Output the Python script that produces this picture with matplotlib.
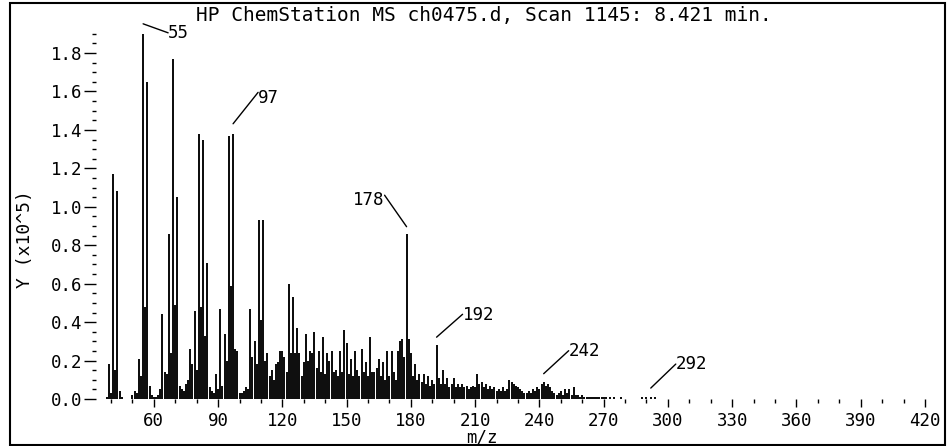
import matplotlib.pyplot as plt
import numpy as np
from matplotlib.patches import Rectangle
from matplotlib.ticker import MultipleLocator
from matplotlib.transforms import offset_copy

plt.rcParams['font.family'] = ['DejaVu Sans Mono']

# Scan 1145 abundances (units of 1e5 counts), one value per integer m/z
mz = np.arange(38, 296)
abundance = [
    # 38-59
    0.01, 0.18, 0.03, 1.17, 0.15, 1.08, 0.04, 0.01, 0.00, 0.00, 0.00, 0.00,
    0.02, 0.04, 0.03, 0.21, 0.12, 1.90, 0.48, 1.65, 0.07, 0.02,
    # 60-79
    0.01, 0.01, 0.02, 0.05, 0.44, 0.14, 0.13, 0.86, 0.24, 1.77,
    0.49, 1.05, 0.07, 0.05, 0.04, 0.08, 0.10, 0.26, 0.18, 0.46,
    # 80-99
    0.15, 1.38, 0.48, 1.35, 0.33, 0.71, 0.06, 0.04, 0.03, 0.13,
    0.05, 0.47, 0.07, 0.34, 0.20, 1.37, 0.59, 1.38, 0.26, 0.25,
    # 100-119
    0.03, 0.03, 0.04, 0.06, 0.05, 0.47, 0.22, 0.30, 0.18, 0.93,
    0.41, 0.93, 0.20, 0.24, 0.12, 0.15, 0.10, 0.18, 0.19, 0.25,
    # 120-139
    0.25, 0.22, 0.14, 0.60, 0.24, 0.53, 0.24, 0.37, 0.24, 0.12,
    0.19, 0.34, 0.20, 0.25, 0.24, 0.35, 0.16, 0.25, 0.14, 0.32,
    # 140-159
    0.13, 0.24, 0.20, 0.25, 0.14, 0.15, 0.12, 0.25, 0.14, 0.36,
    0.29, 0.13, 0.21, 0.12, 0.25, 0.15, 0.12, 0.26, 0.14, 0.19,
    # 160-179
    0.12, 0.32, 0.14, 0.14, 0.16, 0.21, 0.12, 0.19, 0.10, 0.25,
    0.12, 0.25, 0.14, 0.10, 0.25, 0.30, 0.31, 0.22, 0.86, 0.31,
    # 180-199
    0.24, 0.12, 0.18, 0.10, 0.13, 0.09, 0.13, 0.08, 0.12, 0.07,
    0.10, 0.08, 0.28, 0.11, 0.08, 0.15, 0.08, 0.11, 0.06, 0.08,
    # 200-219
    0.11, 0.06, 0.08, 0.06, 0.08, 0.06, 0.07, 0.05, 0.06, 0.07,
    0.06, 0.13, 0.08, 0.09, 0.06, 0.08, 0.05, 0.07, 0.05, 0.06,
    # 220-239
    0.04, 0.05, 0.04, 0.06, 0.04, 0.05, 0.10, 0.09, 0.08, 0.07,
    0.06, 0.05, 0.04, 0.03, 0.03, 0.04, 0.03, 0.05, 0.04, 0.06,
    # 240-259
    0.05, 0.08, 0.09, 0.07, 0.08, 0.06, 0.04, 0.03, 0.02, 0.03,
    0.04, 0.02, 0.05, 0.03, 0.05, 0.02, 0.06, 0.02, 0.02, 0.01,
    # 260-279
    0.02, 0.01, 0.01, 0.01, 0.01, 0.01, 0.01, 0.01, 0.01, 0.01,
    0.01, 0.01, 0.00, 0.01, 0.00, 0.01, 0.00, 0.00, 0.01, 0.00,
    # 280-295
    0.00, 0.00, 0.00, 0.00, 0.00, 0.00, 0.00, 0.00, 0.01, 0.00,
    0.01, 0.00, 0.01, 0.00, 0.01, 0.00,
]
abundance = np.array(abundance)

# labelled ions: (gap above peak, line dx, line dy, ha, relpos), pixels
labels = [55, 97, 178, 192, 242, 292]
label_style = {
    55: (10, 25, -9, 'left', (0, 0.5)),
    97: (10, 25, 26, 'left', (0, 0.8)),
    178: (7, -22, 27, 'right', (1, 0.75)),
    192: (8, 26, 22, 'left', (0, 0.55)),
    242: (8, 25, 23, 'left', (0, 0.5)),
    292: (9, 25, 24, 'left', (0, 0.5)),
}

W, H = 947, 446
fig = plt.figure(figsize=(W / 100, H / 100), dpi=100)

x0, x1 = 33, 428
ax_left = 96
ax_w = (x1 - x0) * 2.142
ax_h = 1.92 * 192.2
ax = fig.add_axes([ax_left / W, (H - 399) / H, ax_w / W, ax_h / H])

ax.vlines(mz, 0, abundance, colors='black', linewidth=1.35)

ax.set_xlim(x0, x1)
ax.set_ylim(0, 1.92)
for s in ax.spines.values():
    s.set_visible(False)

ax.xaxis.set_minor_locator(MultipleLocator(10))
ax.yaxis.set_major_locator(MultipleLocator(0.2))
ax.yaxis.set_minor_locator(MultipleLocator(0.05))
ax.set_xticks(np.arange(60, 421, 30))
ax.yaxis.set_major_formatter(lambda v, p: f'{v:.1f}')

ax.tick_params(axis='x', which='major', length=6, width=1, pad=3,
               labelsize=12.5, direction='out')
ax.tick_params(axis='x', which='minor', length=3, width=1, direction='out')
ax.tick_params(axis='y', which='major', length=9, width=1, pad=1,
               labelsize=12.5, direction='out')
ax.tick_params(axis='y', which='minor', length=3, width=1, direction='out')

for m in labels:
    gap, dx, dy, ha, rel = label_style[m]
    top = abundance[m - mz[0]]
    anchor = offset_copy(ax.transData, fig=fig, x=0, y=gap, units='dots')
    ax.annotate(str(m), xy=(m, top), xycoords=anchor,
                xytext=(dx, dy), textcoords='offset pixels',
                ha=ha, va='center', fontsize=12.5, annotation_clip=False,
                arrowprops=dict(arrowstyle='-', lw=1.0, color='black',
                                shrinkA=0, shrinkB=0, patchA=None,
                                relpos=rel))

fig.text(484 / W, 1 - 15 / H,
         'HP ChemStation MS ch0475.d, Scan 1145: 8.421 min.',
         ha='center', va='center', fontsize=14)
fig.text(25 / W, 1 - 239 / H, 'Y (x10^5)', rotation=90,
         ha='center', va='center', fontsize=13)
fig.text(482 / W, 1 - 438 / H, 'm/z', ha='center', va='center', fontsize=12.5)

# frame round the whole plot
fig.patches.append(Rectangle((10 / W, 1 / H), 935 / W, 442 / H,
                             transform=fig.transFigure, fill=False,
                             edgecolor='black', linewidth=1.5))

fig.savefig('out.png', dpi=100)
